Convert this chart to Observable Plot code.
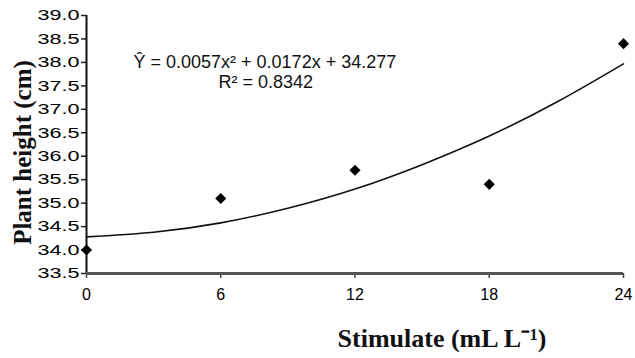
<!DOCTYPE html>
<html>
<head>
<meta charset="utf-8">
<script src="https://cdn.jsdelivr.net/npm/d3@7"></script>
<script src="https://cdn.jsdelivr.net/npm/@observablehq/plot@0.6"></script>
<style>
  html, body { margin: 0; padding: 0; background: #fff; }
  #chart svg { display: block; font-family: "Liberation Sans", Arial, sans-serif; }
</style>
</head>
<body>
<div id="chart"></div>
<script>
// Tick values
const xTicks = [0, 6, 12, 18, 24];
const yTicks = [33.5, 34.0, 34.5, 35.0, 35.5, 36.0, 36.5, 37.0, 37.5, 38.0, 38.5, 39.0];

// Observed points (stimulate dose vs plant height)
const doses = [0, 6, 12, 18, 24];
const heights = [34.0, 35.1, 35.7, 35.4, 38.4];

// Trend curve
const curveX = [0, 3, 6, 9, 12, 15, 18, 21, 24];
const curveY = [34.28, 34.38, 34.58, 34.89, 35.30, 35.82, 36.43, 37.15, 37.97];

// Labels
const equationText = "Ŷ = 0.0057x² + 0.0172x + 34.277";
const r2Text = "R² = 0.8342";
const xLabel = "Stimulate (mL L⁻¹)";
const yLabel = "Plant height (cm)";

const points = doses.map((d, i) => ({x: d, y: heights[i]}));
const curve = curveX.map((d, i) => ({x: d, y: curveY[i]}));

const chart = Plot.plot({
  width: 635,
  height: 358,
  marginLeft: 86,
  marginRight: 12,
  marginTop: 15,
  marginBottom: 85,
  x: {domain: [0, 24]},
  y: {domain: [33.5, 39]},
  marks: [
    Plot.axisY({ticks: yTicks, tickFormat: d3.format(".1f"), tickSize: 5, tickPadding: 2, fontSize: 15, label: null, stroke: "#222", strokeWidth: 1.5}),
    Plot.axisX({ticks: xTicks, tickSize: 5, tickPadding: 10, fontSize: 16, label: null, stroke: "#444", strokeWidth: 1.5}),
    Plot.ruleX([0], {stroke: "#111", strokeWidth: 2}),
    Plot.ruleY([33.5], {stroke: "#555", strokeWidth: 3}),
    Plot.line(curve, {x: "x", y: "y", curve: "natural", stroke: "#111", strokeWidth: 1.6}),
    Plot.dot(points, {x: "x", y: "y", symbol: "diamond2", fill: "#000", stroke: "none", r: 5}),
    Plot.text([equationText], {frameAnchor: "top-left", dx: 47, dy: 47, textAnchor: "start", lineAnchor: "middle", fontSize: 18, fill: "#111"}),
    Plot.text([r2Text], {frameAnchor: "top-left", dx: 132, dy: 67, textAnchor: "start", lineAnchor: "middle", fontSize: 18, fill: "#111"}),
    Plot.text([xLabel], {frameAnchor: "bottom", dx: 87, dy: 65, lineAnchor: "middle", fontSize: 26, fontWeight: "bold", fontFamily: "Liberation Serif", fill: "#111"}),
    Plot.text([yLabel], {frameAnchor: "left", rotate: -90, textAnchor: "middle", dx: -64, dy: 8, lineAnchor: "middle", fontSize: 25, fontWeight: "bold", fontFamily: "Liberation Serif", fill: "#111"})
  ]
});
// Widen the y tick labels like the scanned original
d3.select(chart).selectAll('g[aria-label="y-axis tick label"] text')
  .attr("textLength", 42).attr("lengthAdjust", "spacingAndGlyphs");
document.getElementById("chart").appendChild(chart);
</script>
</body>
</html>
